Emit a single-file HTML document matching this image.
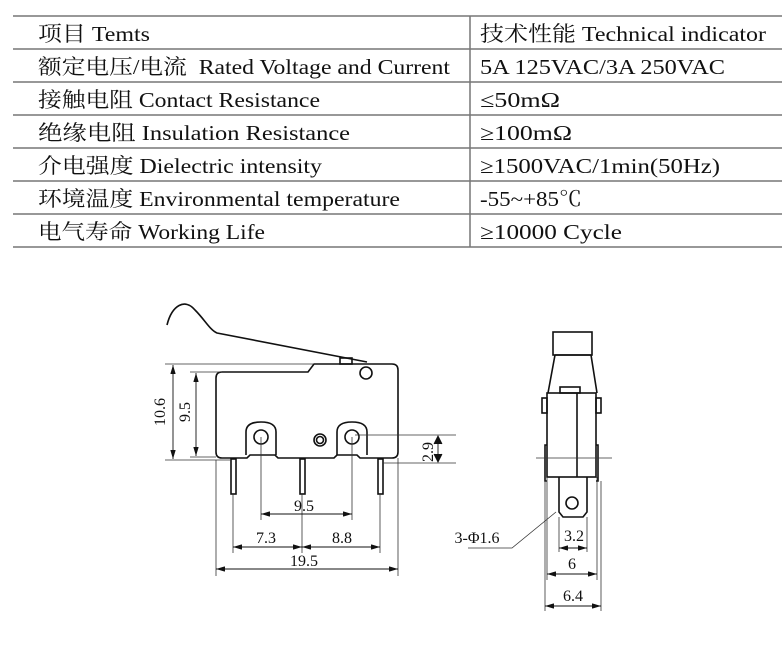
<!DOCTYPE html>
<html><head><meta charset="utf-8"><style>
body{margin:0;background:#fff;width:782px;height:671px;overflow:hidden;font-family:"Liberation Serif","Noto Serif CJK SC",serif}
svg{position:absolute;left:0;top:0}
</style></head><body>
<svg width="782" height="671" viewBox="0 0 782 671" font-family="Liberation Serif, Noto Serif CJK SC, serif">
<g stroke="#777" stroke-width="1.5">
<line x1="13" y1="16" x2="782" y2="16"/><line x1="13" y1="49" x2="782" y2="49"/>
<line x1="13" y1="82" x2="782" y2="82"/><line x1="13" y1="115" x2="782" y2="115"/>
<line x1="13" y1="148" x2="782" y2="148"/><line x1="13" y1="181" x2="782" y2="181"/>
<line x1="13" y1="214" x2="782" y2="214"/><line x1="13" y1="247" x2="782" y2="247"/>
<line x1="470" y1="16" x2="470" y2="247"/>
</g>
<g font-size="21" fill="#111">
<text x="38" y="41" textLength="112" lengthAdjust="spacingAndGlyphs">项目 Temts</text>
<text x="480" y="41" textLength="286" lengthAdjust="spacingAndGlyphs">技术性能 Technical indicator</text>
<text x="38" y="74" textLength="412" lengthAdjust="spacingAndGlyphs">额定电压/电流 &#160;Rated Voltage and Current</text>
<text x="480" y="74" textLength="245" lengthAdjust="spacingAndGlyphs">5A 125VAC/3A 250VAC</text>
<text x="38" y="107" textLength="282" lengthAdjust="spacingAndGlyphs">接触电阻 Contact Resistance</text>
<text x="480" y="107" textLength="80" lengthAdjust="spacingAndGlyphs">≤50mΩ</text>
<text x="38" y="140" textLength="312" lengthAdjust="spacingAndGlyphs">绝缘电阻 Insulation Resistance</text>
<text x="480" y="140" textLength="92" lengthAdjust="spacingAndGlyphs">≥100mΩ</text>
<text x="38" y="173" textLength="284" lengthAdjust="spacingAndGlyphs">介电强度 Dielectric intensity</text>
<text x="480" y="173" textLength="240" lengthAdjust="spacingAndGlyphs">≥1500VAC/1min(50Hz)</text>
<text x="38" y="206" textLength="362" lengthAdjust="spacingAndGlyphs">环境温度 Environmental temperature</text>
<text x="480" y="206" textLength="102" lengthAdjust="spacingAndGlyphs">-55~+85℃</text>
<text x="38" y="239" textLength="227" lengthAdjust="spacingAndGlyphs">电气寿命 Working Life</text>
<text x="480" y="239" textLength="142" lengthAdjust="spacingAndGlyphs">≥10000 Cycle</text>
</g>
<defs><marker id="a" viewBox="0 0 10 6" refX="10" refY="3" markerWidth="10" markerHeight="6" orient="auto-start-reverse"><path d="M0,0L10,3L0,6z" fill="#111"/></marker></defs>
<g fill="none" stroke="#111" stroke-width="1.6">
<path d="M167,325 C172,305 185,298 195,310 C205,320 210,330 217,333 L367,362"/>
<path d="M222,372 L308,372 L314,364 L392,364 Q398,364 398,370 L398,452 Q398,458 392,458 L360,458 L357,455 L337,455 L334,458 L278,458 L275,455 L250,455 L247,458 L222,458 Q216,458 216,452 L216,378 Q216,372 222,372Z"/>
<rect x="340" y="358" width="12" height="6"/>
<circle cx="366" cy="373" r="6" fill="#fff"/>
<path d="M246,455 L246,432 Q246,422 261,422 Q276,422 276,432 L276,455"/>
<circle cx="261" cy="437" r="7"/>
<path d="M337,455 L337,432 Q337,422 352,422 Q367,422 367,432 L367,455"/>
<circle cx="352" cy="437" r="7"/>
<circle cx="320" cy="440" r="6"/><circle cx="320" cy="440" r="3.5"/>
<rect x="231" y="459" width="5" height="35"/>
<rect x="300" y="459" width="5" height="35"/>
<rect x="378" y="459" width="5" height="35"/>
<rect x="553" y="332" width="39" height="23"/>
<path d="M555,355 L548,393 M591,355 L597,393 M555,355 L591,355"/>
<rect x="560" y="387" width="20" height="6"/>
<rect x="547" y="393" width="49" height="84"/>
<line x1="577" y1="393" x2="577" y2="477"/>
<rect x="542" y="398" width="5" height="15"/><rect x="596" y="398" width="5" height="15"/>
<path d="M547,445 L545,445 L545,481 L547,481 M596,445 L598,445 L598,481 L596,481"/>
<path d="M559,477 L559,512 L563,517 L583,517 L587,512 L587,477"/>
<circle cx="572" cy="503" r="6"/>
</g>
<g stroke="#333" stroke-width="0.8" fill="none">
<line x1="165" y1="364" x2="313" y2="364"/><line x1="190" y1="372" x2="222" y2="372"/>
<line x1="165" y1="460" x2="231" y2="460"/><line x1="190" y1="457" x2="216" y2="457"/>
<line x1="355" y1="435" x2="456" y2="435"/><line x1="383" y1="463" x2="456" y2="463"/>
<line x1="216" y1="460" x2="216" y2="576"/><line x1="398" y1="458" x2="398" y2="576"/>
<line x1="233" y1="494" x2="233" y2="553"/><line x1="380" y1="494" x2="380" y2="553"/>
<line x1="302" y1="494" x2="302" y2="553"/>
<line x1="261" y1="437" x2="261" y2="520"/><line x1="352" y1="437" x2="352" y2="520"/>
<line x1="536" y1="458" x2="612" y2="458"/>
<path d="M556,512 L512,548 L468,548"/>
<line x1="559" y1="517" x2="559" y2="552"/><line x1="587" y1="517" x2="587" y2="552"/>
<line x1="547" y1="477" x2="547" y2="580"/><line x1="597" y1="477" x2="597" y2="580"/>
<line x1="545" y1="481" x2="545" y2="611"/><line x1="601" y1="481" x2="601" y2="611"/>
</g>
<g stroke="#111" stroke-width="0.9" marker-start="url(#a)" marker-end="url(#a)">
<line x1="173" y1="365" x2="173" y2="459"/>
<line x1="196" y1="373" x2="196" y2="456"/>
<line x1="261" y1="514" x2="352" y2="514"/>
<line x1="233" y1="547" x2="302" y2="547"/>
<line x1="302" y1="547" x2="380" y2="547"/>
<line x1="216" y1="569" x2="398" y2="569"/>
<line x1="559" y1="548" x2="587" y2="548"/>
<line x1="547" y1="574" x2="597" y2="574"/>
<line x1="545" y1="606" x2="601" y2="606"/>
</g>
<g stroke="#111" stroke-width="0.9"><line x1="438" y1="436" x2="438" y2="462"/>
<path d="M434,444 L438,436 L442,444 M434,454 L438,462 L442,454" fill="#111"/></g>
<g font-size="16" fill="#111" text-anchor="middle">
<text x="304" y="511">9.5</text>
<text x="266" y="543">7.3</text>
<text x="342" y="543">8.8</text>
<text x="304" y="566">19.5</text>
<text transform="translate(165,412) rotate(-90)">10.6</text>
<text transform="translate(190,412) rotate(-90)">9.5</text>
<text transform="translate(433,452) rotate(-90)">2.9</text>
<text x="574" y="541">3.2</text>
<text x="572" y="569">6</text>
<text x="573" y="601">6.4</text>
<text x="477" y="543">3-Φ1.6</text>
</g>
</svg>
</body></html>
